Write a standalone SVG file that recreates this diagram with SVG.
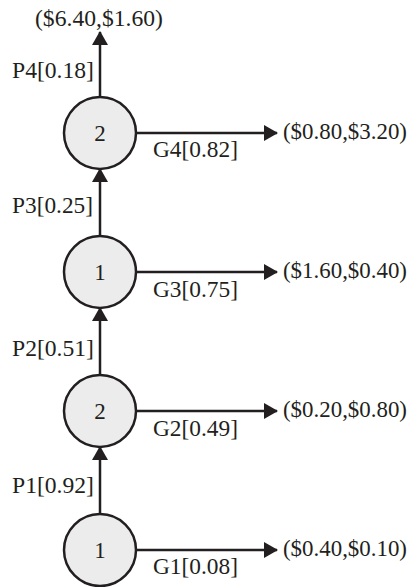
<svg xmlns="http://www.w3.org/2000/svg" width="411" height="587" viewBox="0 0 411 587">
<defs>
<style>
text{font-family:"Liberation Serif","Times New Roman",serif;font-size:23px;fill:#231f20}
.lbl{text-anchor:start}
.num{text-anchor:middle}
circle{fill:#ececec;stroke:#231f20;stroke-width:2.5}
.edge{stroke:#231f20;stroke-width:2.5;fill:none}
</style>
<marker id="ah" markerWidth="14" markerHeight="16" refX="13" refY="8" orient="auto" markerUnits="userSpaceOnUse">
<path d="M0,0 L14,8 L0,16 Z" fill="#231f20"/>
</marker>
</defs>
<rect width="411" height="587" fill="#fff"/>
<g id="connectors">
<line class="edge" x1="100" y1="97" x2="100" y2="32" marker-end="url(#ah)"/>
<line class="edge" x1="100" y1="236" x2="100" y2="169" marker-end="url(#ah)"/>
<line class="edge" x1="100" y1="375" x2="100" y2="308" marker-end="url(#ah)"/>
<line class="edge" x1="100" y1="514" x2="100" y2="447" marker-end="url(#ah)"/>
<line class="edge" x1="136" y1="133" x2="277" y2="133" marker-end="url(#ah)"/>
<line class="edge" x1="136" y1="272" x2="277" y2="272" marker-end="url(#ah)"/>
<line class="edge" x1="136" y1="411" x2="277" y2="411" marker-end="url(#ah)"/>
<line class="edge" x1="136" y1="550" x2="277" y2="550" marker-end="url(#ah)"/>
<text class="lbl" x="12" y="78" textLength="82" lengthAdjust="spacingAndGlyphs">P4[0.18]</text>
<text class="lbl" x="12" y="213" textLength="81" lengthAdjust="spacingAndGlyphs">P3[0.25]</text>
<text class="lbl" x="12" y="356" textLength="82" lengthAdjust="spacingAndGlyphs">P2[0.51]</text>
<text class="lbl" x="12" y="493" textLength="82" lengthAdjust="spacingAndGlyphs">P1[0.92]</text>
<text class="lbl" x="153" y="157" textLength="85" lengthAdjust="spacingAndGlyphs">G4[0.82]</text>
<text class="lbl" x="153" y="297" textLength="85" lengthAdjust="spacingAndGlyphs">G3[0.75]</text>
<text class="lbl" x="153" y="436" textLength="85" lengthAdjust="spacingAndGlyphs">G2[0.49]</text>
<text class="lbl" x="153" y="574" textLength="85" lengthAdjust="spacingAndGlyphs">G1[0.08]</text>
</g>
<g id="out-top"><text class="lbl" x="35" y="26" textLength="128" lengthAdjust="spacingAndGlyphs">($6.40,$1.60)</text></g>
<g id="out4"><text class="lbl" x="283" y="139" textLength="124" lengthAdjust="spacingAndGlyphs">($0.80,$3.20)</text></g>
<g id="out3"><text class="lbl" x="283" y="278" textLength="124" lengthAdjust="spacingAndGlyphs">($1.60,$0.40)</text></g>
<g id="out2"><text class="lbl" x="283" y="417" textLength="124" lengthAdjust="spacingAndGlyphs">($0.20,$0.80)</text></g>
<g id="out1"><text class="lbl" x="283" y="556" textLength="124" lengthAdjust="spacingAndGlyphs">($0.40,$0.10)</text></g>
<g id="node4"><circle cx="100" cy="133" r="36"/><text class="num" x="100" y="141">2</text></g>
<g id="node3"><circle cx="100" cy="272" r="36"/><text class="num" x="100" y="280">1</text></g>
<g id="node2"><circle cx="100" cy="411" r="36"/><text class="num" x="100" y="419">2</text></g>
<g id="node1"><circle cx="100" cy="550" r="36"/><text class="num" x="100" y="558">1</text></g>
</svg>
